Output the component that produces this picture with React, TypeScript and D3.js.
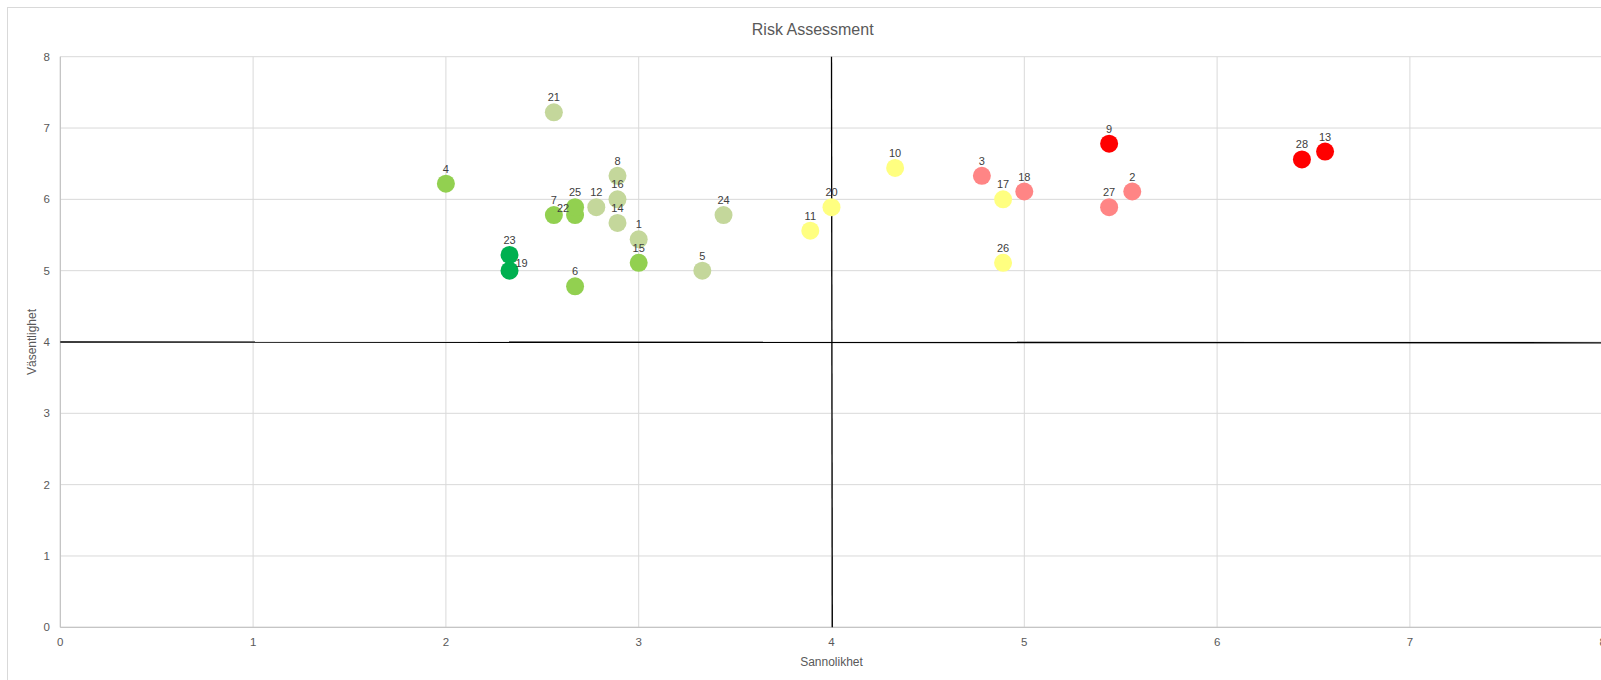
import React from "react";
import * as d3 from "d3";

const ids = [1, 2, 3, 4, 5, 6, 7, 8, 9, 10, 11, 12, 13, 14, 15, 16, 17, 18, 19, 20, 21, 22, 23, 24, 25, 26, 27, 28];
const sannolikhet = [3.0, 5.56, 4.78, 2.0, 3.33, 2.67, 2.56, 2.89, 5.44, 4.33, 3.89, 2.78, 6.56, 2.89, 3.0, 2.89, 4.89, 5.0, 2.33, 4.0, 2.56, 2.67, 2.33, 3.44, 2.67, 4.89, 5.44, 6.44];
const vasentlighet = [5.44, 6.11, 6.33, 6.22, 5.0, 4.78, 5.78, 6.33, 6.78, 6.44, 5.56, 5.89, 6.67, 5.67, 5.11, 6.0, 6.0, 6.11, 5.0, 5.89, 7.22, 5.78, 5.22, 5.78, 5.89, 5.11, 5.89, 6.56];
const level = ["pale", "pink", "pink", "green", "pale", "green", "green", "pale", "red", "yellow", "yellow", "pale", "red", "pale", "green", "pale", "yellow", "pink", "dark", "yellow", "pale", "green", "dark", "pale", "green", "yellow", "pink", "red"];
const labelSide = ["top", "top", "top", "top", "top", "top", "top", "top", "top", "top", "top", "top", "top", "top", "top", "top", "top", "top", "right", "top", "top", "left", "top", "top", "top", "top", "top", "top"];
const xTicks = [0, 1, 2, 3, 4, 5, 6, 7, 8];
const yTicks = [0, 1, 2, 3, 4, 5, 6, 7, 8];
const quadrantX = [4];
const quadrantY = [4];

const levelColors: Record<string, string> = {
  dark: "#00B050",
  green: "#92D050",
  pale: "#C4D79B",
  yellow: "#FFFF80",
  pink: "#FF8585",
  red: "#FF0000",
};

const W = 1601;
const H = 680;
const left = 60.3;
const right = 1602.7;
const top = 56.7;
const bottom = 627.3;
const font = "'Liberation Sans', Arial, sans-serif";
const textColor = "#595959";

export default function App() {
  const x = d3.scaleLinear().domain([0, 8]).range([left, right]);
  const y = d3.scaleLinear().domain([0, 8]).range([bottom, top]);
  const pts = ids.map((id, i) => ({ id, x: sannolikhet[i], y: vasentlighet[i], lvl: level[i], side: labelSide[i] }));

  return (
    <svg width={W} height={H} style={{ position: "absolute", left: 0, top: 0, background: "#fff" }}>
      <rect x={7.5} y={7.5} width={W + 20} height={H + 20} fill="#fff" stroke="#d9d9d9" strokeWidth={1} />
      <text x={812.7} y={35} textAnchor="middle" fontFamily={font} fontSize={16} fill={textColor}>
        Risk Assessment
      </text>
      {xTicks.map((t) => (
        <line key={"gx" + t} x1={x(t)} x2={x(t)} y1={top} y2={bottom} stroke="#d9d9d9" strokeWidth={1} />
      ))}
      {yTicks.map((t) => (
        <line key={"gy" + t} x1={left} x2={right} y1={y(t)} y2={y(t)} stroke="#d9d9d9" strokeWidth={1} />
      ))}
      <line x1={left} x2={left} y1={top} y2={bottom} stroke="#bfbfbf" strokeWidth={1} />
      <line x1={left} x2={right} y1={bottom} y2={bottom} stroke="#bfbfbf" strokeWidth={1} />
      {xTicks.map((t) => (
        <text key={"tx" + t} x={x(t)} y={646} textAnchor="middle" fontFamily={font} fontSize={11.5} fill={textColor}>
          {t}
        </text>
      ))}
      {yTicks.map((t) => (
        <text key={"ty" + t} x={50} y={y(t) + 4} textAnchor="end" fontFamily={font} fontSize={11.5} fill={textColor}>
          {t}
        </text>
      ))}
      <text x={831.5} y={666} textAnchor="middle" fontFamily={font} fontSize={12} fill={textColor}>
        Sannolikhet
      </text>
      <text
        transform={`translate(36,${(top + bottom) / 2}) rotate(-90)`}
        textAnchor="middle"
        fontFamily={font}
        fontSize={12}
        fill={textColor}
      >
        Väsentlighet
      </text>
      {quadrantX.map((q) => (
        <line key={"qx" + q} x1={x(q)} x2={x(q) + 0.8} y1={top} y2={bottom} stroke="#000" strokeWidth={1.3} />
      ))}
      {quadrantY.map((q) => (
        <line key={"qy" + q} x1={left} x2={right} y1={y(q)} y2={y(q) + 0.8} stroke="#000" strokeWidth={1.3} />
      ))}
      {pts.map((p) => (
        <circle key={"c" + p.id} cx={x(p.x)} cy={y(p.y)} r={9} fill={levelColors[p.lvl]} />
      ))}
      {pts.map((p) => {
        const dx = p.side === "right" ? 12 : p.side === "left" ? -12 : 0;
        const dy = p.side === "top" ? -15 : -7.5;
        return (
          <text
            key={"l" + p.id}
            x={x(p.x) + dx}
            y={y(p.y) + dy + 4}
            textAnchor="middle"
            fontFamily={font}
            fontSize={11}
            fill="#404040"
          >
            {p.id}
          </text>
        );
      })}
    </svg>
  );
}
